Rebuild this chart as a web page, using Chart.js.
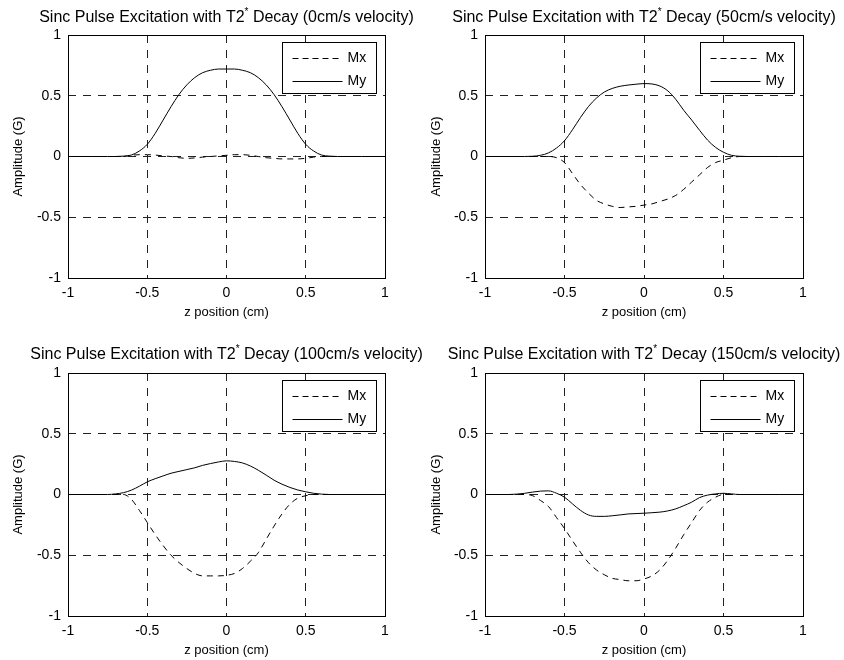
<!DOCTYPE html>
<html>
<head>
<meta charset="utf-8">
<script src="https://cdn.jsdelivr.net/npm/chart.js@4.4.1/dist/chart.umd.min.js"></script>
<style>
  body { margin: 0; background: #fff; }
  #wrap { position: relative; width: 844px; height: 660px; }
  #wrap canvas { position: absolute; left: 0; top: 0; }
</style>
</head>
<body>
<div id="wrap"></div>
<script>
// z position (cm)
const zPos = [-1, -0.95, -0.9, -0.85, -0.8, -0.75, -0.7, -0.65, -0.6, -0.55, -0.5,
  -0.45, -0.4, -0.35, -0.3, -0.25, -0.2, -0.15, -0.1, -0.05, 0,
  0.05, 0.1, 0.15, 0.2, 0.25, 0.3, 0.35, 0.4, 0.45, 0.5,
  0.55, 0.6, 0.65, 0.7, 0.75, 0.8, 0.85, 0.9, 0.95, 1];

const velocities = ['0', '50', '100', '150'];
const seriesNames = ['Mx', 'My'];
const tickValues = [-1, -0.5, 0, 0.5, 1];

// 0 cm/s
const mx0 = [0, 0, 0, 0, 0, 0, 0, 0, 0.01, 0.015, 0.015,
  0.012, 0.005, 0, -0.01, -0.015, -0.012, -0.005, 0, 0.005, 0.01,
  0.015, 0.015, 0.01, 0, -0.01, -0.015, -0.02, -0.02, -0.02, -0.015,
  -0.005, 0, 0, 0, 0, 0, 0, 0, 0, 0];
const my0 = [0, 0, 0, 0, 0, 0, 0, 0.003, 0.012, 0.045, 0.10,
  0.19, 0.30, 0.41, 0.51, 0.59, 0.65, 0.69, 0.71, 0.72, 0.72,
  0.72, 0.71, 0.69, 0.65, 0.59, 0.51, 0.41, 0.30, 0.19, 0.10,
  0.045, 0.012, 0.003, 0, 0, 0, 0, 0, 0, 0];

// 50 cm/s
const mx50 = [0, 0, 0, 0, 0, 0, 0, 0, 0, -0.01, -0.05,
  -0.14, -0.23, -0.30, -0.36, -0.39, -0.41, -0.42, -0.415, -0.41, -0.40,
  -0.39, -0.37, -0.35, -0.32, -0.27, -0.21, -0.15, -0.09, -0.05, -0.03,
  -0.01, 0, 0, 0, 0, 0, 0, 0, 0, 0];
const my50 = [0, 0, 0, 0, 0, 0, 0.002, 0.01, 0.03, 0.07, 0.13,
  0.22, 0.32, 0.41, 0.48, 0.53, 0.56, 0.578, 0.588, 0.595, 0.60,
  0.597, 0.58, 0.54, 0.47, 0.38, 0.30, 0.215, 0.135, 0.075, 0.035,
  0.01, 0.002, 0, 0, 0, 0, 0, 0, 0, 0];

// 100 cm/s
const mx100 = [0, 0, 0, 0, 0, 0, 0, 0, -0.04, -0.13, -0.23,
  -0.33, -0.42, -0.50, -0.56, -0.61, -0.65, -0.67, -0.67, -0.67, -0.665,
  -0.65, -0.61, -0.55, -0.48, -0.37, -0.26, -0.16, -0.08, -0.03, -0.01,
  0, 0, 0, 0, 0, 0, 0, 0, 0, 0];
const my100 = [0, 0, 0, 0, 0, 0, 0.005, 0.015, 0.036, 0.068, 0.104,
  0.13, 0.153, 0.175, 0.19, 0.205, 0.22, 0.24, 0.255, 0.268, 0.277,
  0.272, 0.26, 0.235, 0.20, 0.16, 0.118, 0.085, 0.058, 0.037, 0.022,
  0.01, 0.003, 0, 0, 0, 0, 0, 0, 0, 0];

// 150 cm/s
const mx150 = [0, 0, 0, 0, 0, 0, -0.01, -0.05, -0.10, -0.19, -0.28,
  -0.38, -0.475, -0.56, -0.62, -0.66, -0.69, -0.70, -0.71, -0.71, -0.695,
  -0.67, -0.62, -0.54, -0.44, -0.33, -0.23, -0.13, -0.063, -0.022, 0,
  0, 0, 0, 0, 0, 0, 0, 0, 0, 0];
const my150 = [0, 0, 0, 0, 0.003, 0.01, 0.02, 0.028, 0.03, 0.01, -0.022,
  -0.077, -0.13, -0.168, -0.18, -0.18, -0.175, -0.168, -0.16, -0.157, -0.154,
  -0.15, -0.145, -0.135, -0.118, -0.092, -0.063, -0.025, -0.005, 0.005, 0.01,
  0.005, 0, 0, 0, 0, 0, 0, 0, 0, 0];

const FONT = '"Liberation Sans", Arial, Helvetica, sans-serif';
Chart.defaults.font.family = FONT;
Chart.defaults.color = '#000';

// plot boxes in page pixels
const panels = [
  { vel: velocities[0], mx: mx0, my: my0, L: 68, T: 35, R: 385, B: 278, yTitleX: 18, xTitleY: 312, titleY: 22 },
  { vel: velocities[1], mx: mx50, my: my50, L: 485, T: 35, R: 803, B: 278, yTitleX: 436, xTitleY: 312, titleY: 22 },
  { vel: velocities[2], mx: mx100, my: my100, L: 68, T: 373, R: 385, B: 616, yTitleX: 18, xTitleY: 650, titleY: 359 },
  { vel: velocities[3], mx: mx150, my: my150, L: 485, T: 373, R: 803, B: 616, yTitleX: 436, xTitleY: 650, titleY: 359 }
];

const AXIS_TITLE_PX = 13;
const halfLine = AXIS_TITLE_PX * 1.2 / 2;

function fmt(v) { return String(v); }

function gridColor(c) {
  return (c.tick && Math.abs(c.tick.value) === 1) ? 'rgba(0,0,0,0)' : '#222';
}

function boxPlugin(p) {
  return {
    id: 'matlabBox',
    afterDatasetsDraw(chart) {
      const ctx = chart.ctx, a = chart.chartArea;
      ctx.save();
      ctx.strokeStyle = '#000';
      ctx.lineWidth = 1;
      const x0 = Math.round(a.left) + 0.5, y0 = Math.round(a.top) + 0.5;
      const x1 = Math.round(a.right) + 0.5, y1 = Math.round(a.bottom) + 0.5;
      ctx.strokeRect(x0, y0, x1 - x0, y1 - y0);

      // legend
      const bw = 94, bh = 51;
      const bx = Math.round(a.right - 9 - bw) + 0.5, by = Math.round(a.top + 7) + 0.5;
      ctx.fillStyle = '#fff';
      ctx.fillRect(bx, by, bw, bh);
      ctx.strokeRect(bx, by, bw, bh);
      const rows = [by + 15, by + 38];
      ctx.font = '14px ' + FONT;
      ctx.textBaseline = 'middle';
      ctx.fillStyle = '#000';
      seriesNames.forEach((name, i) => {
        ctx.beginPath();
        ctx.setLineDash(i === 0 ? [6, 4] : []);
        ctx.moveTo(bx + 10, Math.round(rows[i]) + 0.5);
        ctx.lineTo(bx + 60, Math.round(rows[i]) + 0.5);
        ctx.stroke();
        ctx.fillText(name, bx + 65, rows[i] + 1);
      });
      ctx.setLineDash([]);

      // title with superscript star
      const main = 'Sinc Pulse Excitation with T2', star = '*', rest = ' Decay (' + p.vel + 'cm/s velocity)';
      const big = '16px ' + FONT, small = '10px ' + FONT;
      ctx.textBaseline = 'alphabetic';
      ctx.font = big;
      const w1 = ctx.measureText(main).width, w3 = ctx.measureText(rest).width;
      ctx.font = small;
      const w2 = ctx.measureText(star).width;
      let x = (a.left + a.right) / 2 - (w1 + w2 + w3) / 2;
      ctx.font = big;
      ctx.fillText(main, x, p.titleY);
      x += w1;
      ctx.font = small;
      ctx.fillText(star, x, p.titleY - 7);
      x += w2;
      ctx.font = big;
      ctx.fillText(rest, x, p.titleY);
      ctx.restore();
    }
  };
}

panels.forEach(p => {
  const canvas = document.createElement('canvas');
  canvas.width = 844;
  canvas.height = 660;
  document.getElementById('wrap').appendChild(canvas);

  const padLeft = p.yTitleX - halfLine;
  const scaleBottom = p.xTitleY + halfLine;

  new Chart(canvas.getContext('2d'), {
    type: 'line',
    data: {
      datasets: [
        {
          label: seriesNames[0],
          data: zPos.map((z, i) => ({ x: z, y: p.mx[i] })),
          borderColor: '#000', borderWidth: 1, borderDash: [6, 5],
          pointRadius: 0, cubicInterpolationMode: 'monotone', fill: false
        },
        {
          label: seriesNames[1],
          data: zPos.map((z, i) => ({ x: z, y: p.my[i] })),
          borderColor: '#000', borderWidth: 1,
          pointRadius: 0, cubicInterpolationMode: 'monotone', fill: false
        }
      ]
    },
    options: {
      responsive: false,
      animation: false,
      events: [],
      layout: { padding: { left: padLeft, top: p.T, right: 844 - p.R, bottom: 660 - scaleBottom } },
      plugins: { legend: { display: false }, tooltip: { enabled: false }, title: { display: false } },
      scales: {
        x: {
          type: 'linear', min: -1, max: 1,
          afterFit(s) { s.height = scaleBottom - p.B; },
          afterBuildTicks(s) { s.ticks = tickValues.map(v => ({ value: v })); },
          ticks: { callback: fmt, padding: 7, maxRotation: 0, autoSkip: false, font: { size: 14 } },
          grid: { color: gridColor, lineWidth: 1, drawTicks: false },
          border: { display: false, dash: [8, 7] },
          title: { display: true, text: 'z position (cm)', font: { size: AXIS_TITLE_PX }, padding: 0 }
        },
        y: {
          type: 'linear', min: -1, max: 1,
          afterFit(s) { s.width = p.L - padLeft; },
          afterBuildTicks(s) { s.ticks = tickValues.map(v => ({ value: v })); },
          ticks: { callback: fmt, padding: 7, font: { size: 14 } },
          grid: { color: gridColor, lineWidth: 1, drawTicks: false },
          border: { display: false, dash: [8, 7] },
          title: { display: true, text: 'Amplitude (G)', font: { size: AXIS_TITLE_PX }, padding: 0 }
        }
      }
    },
    plugins: [boxPlugin(p)]
  });
});
</script>
</body>
</html>
